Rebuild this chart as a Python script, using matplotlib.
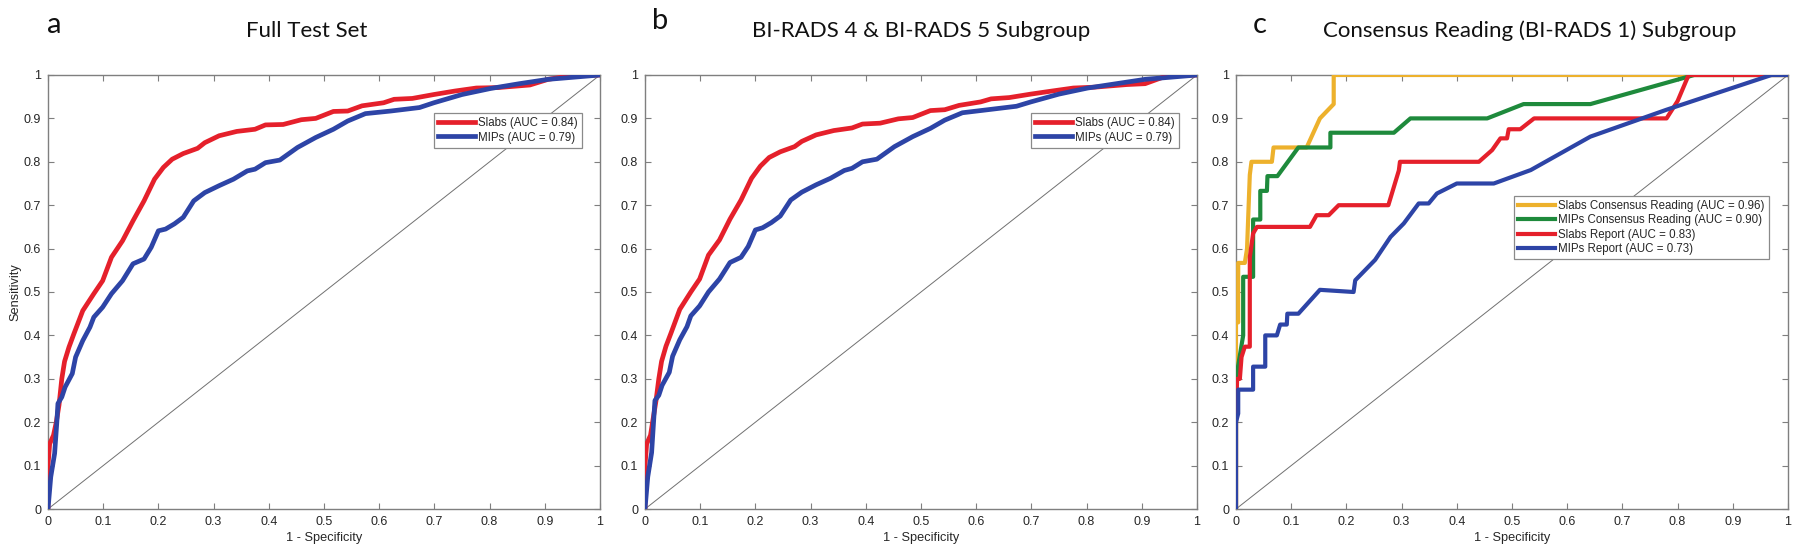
import matplotlib
matplotlib.use('Agg')
import matplotlib.pyplot as plt
from matplotlib.ticker import FuncFormatter

# ---------------- data ----------------
panel_letters = ['a', 'b', 'c']
panel_titles = ['Full Test Set', 'BI-RADS 4 & BI-RADS 5 Subgroup',
                'Consensus Reading (BI-RADS 1) Subgroup']
x_label = '1 - Specificity'
y_label = 'Sensitivity'
tick_values = [0, 0.1, 0.2, 0.3, 0.4, 0.5, 0.6, 0.7, 0.8, 0.9, 1]

# Panel a: full test set
a_slabs_fpr = [0, 0, 0.003, 0.01, 0.015, 0.02, 0.025, 0.03, 0.038, 0.047, 0.063, 0.083,
               0.099, 0.115, 0.135, 0.154, 0.174, 0.193, 0.209, 0.225, 0.245, 0.271,
               0.284, 0.31, 0.342, 0.375, 0.394, 0.426, 0.459, 0.485, 0.517, 0.543,
               0.569, 0.608, 0.627, 0.66, 0.699, 0.737, 0.776, 0.815, 0.873, 0.906,
               0.945, 1.0]
a_slabs_tpr = [0, 0.10, 0.15, 0.17, 0.20, 0.24, 0.30, 0.34, 0.373, 0.404, 0.457, 0.496,
               0.526, 0.58, 0.618, 0.664, 0.71, 0.76, 0.787, 0.806, 0.819, 0.831,
               0.844, 0.86, 0.87, 0.875, 0.885, 0.886, 0.897, 0.90, 0.916, 0.917,
               0.929, 0.936, 0.944, 0.946, 0.955, 0.963, 0.97, 0.971, 0.977, 0.99,
               0.998, 1.0]
a_mips_fpr = [0, 0.005, 0.012, 0.016, 0.018, 0.025, 0.031, 0.044, 0.05, 0.063, 0.076,
              0.083, 0.099, 0.115, 0.135, 0.154, 0.174, 0.187, 0.20, 0.213, 0.229,
              0.245, 0.264, 0.284, 0.31, 0.336, 0.361, 0.375, 0.394, 0.42, 0.452,
              0.485, 0.517, 0.543, 0.575, 0.621, 0.673, 0.699, 0.75, 0.802, 0.854,
              0.906, 1.0]
a_mips_tpr = [0, 0.074, 0.128, 0.20, 0.243, 0.258, 0.281, 0.312, 0.35, 0.388, 0.419,
              0.442, 0.465, 0.496, 0.526, 0.565, 0.576, 0.603, 0.641, 0.645, 0.657,
              0.672, 0.71, 0.729, 0.745, 0.76, 0.779, 0.783, 0.798, 0.804, 0.833,
              0.856, 0.875, 0.894, 0.911, 0.917, 0.925, 0.936, 0.955, 0.969, 0.98,
              0.99, 1.0]

# Panel b: BI-RADS 4 & 5 subgroup
b_slabs_fpr = [0, 0, 0.003, 0.01, 0.015, 0.02, 0.025, 0.03, 0.038, 0.047, 0.063, 0.083,
               0.099, 0.115, 0.135, 0.154, 0.174, 0.193, 0.209, 0.225, 0.245, 0.271,
               0.284, 0.31, 0.342, 0.375, 0.394, 0.426, 0.459, 0.485, 0.517, 0.543,
               0.569, 0.608, 0.627, 0.66, 0.699, 0.737, 0.776, 0.815, 0.873, 0.906,
               0.945, 1.0]
b_slabs_tpr = [0, 0.10, 0.15, 0.17, 0.21, 0.25, 0.30, 0.34, 0.375, 0.405, 0.46, 0.50,
               0.53, 0.585, 0.62, 0.668, 0.712, 0.762, 0.79, 0.81, 0.823, 0.835,
               0.847, 0.862, 0.872, 0.878, 0.887, 0.889, 0.899, 0.902, 0.918, 0.92,
               0.93, 0.938, 0.945, 0.948, 0.956, 0.963, 0.97, 0.972, 0.978, 0.98,
               0.998, 1.0]
b_mips_fpr = [0, 0.005, 0.012, 0.016, 0.018, 0.025, 0.031, 0.044, 0.05, 0.063, 0.076,
              0.083, 0.099, 0.115, 0.135, 0.154, 0.174, 0.187, 0.20, 0.213, 0.229,
              0.245, 0.264, 0.284, 0.31, 0.336, 0.361, 0.375, 0.394, 0.42, 0.452,
              0.485, 0.517, 0.543, 0.575, 0.621, 0.673, 0.699, 0.75, 0.802, 0.854,
              0.906, 1.0]
b_mips_tpr = [0, 0.074, 0.13, 0.21, 0.25, 0.262, 0.285, 0.315, 0.352, 0.39, 0.42,
              0.445, 0.468, 0.50, 0.53, 0.568, 0.58, 0.605, 0.643, 0.648, 0.66,
              0.675, 0.712, 0.73, 0.747, 0.762, 0.78, 0.785, 0.80, 0.806, 0.835,
              0.858, 0.877, 0.896, 0.913, 0.92, 0.928, 0.938, 0.956, 0.97, 0.98,
              0.99, 1.0]

# Panel c: consensus reading subgroup
c_slabs_cons_fpr = [0, 0, 0.004, 0.004, 0.016, 0.02, 0.025, 0.028, 0.065, 0.068, 0.128,
                    0.152, 0.177, 0.177, 1.0]
c_slabs_cons_tpr = [0, 0.43, 0.43, 0.567, 0.567, 0.60, 0.77, 0.80, 0.80, 0.833, 0.833,
                    0.90, 0.933, 1.0, 1.0]
c_mips_cons_fpr = [0, 0, 0.013, 0.013, 0.031, 0.031, 0.044, 0.044, 0.056, 0.057, 0.075,
                   0.113, 0.171, 0.171, 0.286, 0.316, 0.455, 0.521, 0.642, 0.83, 1.0]
c_mips_cons_tpr = [0, 0.30, 0.40, 0.535, 0.535, 0.667, 0.667, 0.733, 0.733, 0.767, 0.767,
                   0.833, 0.833, 0.867, 0.867, 0.90, 0.90, 0.933, 0.933, 1.0, 1.0]
c_slabs_rep_fpr = [0, 0, 0.002, 0.007, 0.01, 0.016, 0.025, 0.025, 0.031, 0.038, 0.134,
                   0.146, 0.168, 0.186, 0.276, 0.295, 0.297, 0.44, 0.464, 0.479, 0.491,
                   0.494, 0.515, 0.54, 0.78, 0.80, 0.81, 0.82, 1.0]
c_slabs_rep_tpr = [0, 0.213, 0.30, 0.30, 0.35, 0.374, 0.374, 0.58, 0.635, 0.65, 0.65,
                   0.677, 0.677, 0.70, 0.70, 0.78, 0.80, 0.80, 0.827, 0.854, 0.854,
                   0.875, 0.875, 0.90, 0.90, 0.94, 0.97, 1.0, 1.0]
c_mips_rep_fpr = [0, 0, 0.004, 0.004, 0.031, 0.031, 0.053, 0.053, 0.074, 0.08, 0.092,
                  0.093, 0.113, 0.152, 0.213, 0.216, 0.252, 0.28, 0.304, 0.331, 0.349,
                  0.364, 0.40, 0.467, 0.534, 0.642, 0.78, 0.97, 1.0]
c_mips_rep_tpr = [0, 0.20, 0.22, 0.275, 0.275, 0.328, 0.328, 0.40, 0.40, 0.425, 0.425,
                  0.45, 0.45, 0.505, 0.50, 0.527, 0.574, 0.627, 0.658, 0.704, 0.704,
                  0.727, 0.75, 0.75, 0.781, 0.858, 0.92, 1.0, 1.0]

a_labels = ['Slabs (AUC = 0.84)', 'MIPs (AUC = 0.79)']
b_labels = ['Slabs (AUC = 0.84)', 'MIPs (AUC = 0.79)']
c_labels = ['Slabs Consensus Reading (AUC = 0.96)', 'MIPs Consensus Reading (AUC = 0.90)',
            'Slabs Report (AUC = 0.83)', 'MIPs Report (AUC = 0.73)']

# ---------------- style ----------------
RED = '#E5202B'
BLUE = '#2D44A6'
YELLOW = '#EDB12C'
GREEN = '#1E8A3C'
AXCOL = '#7f7f7f'
TXT = '#262626'
LW = 3.4

plt.rcParams['font.family'] = ['Liberation Sans', 'DejaVu Sans']

W, H = 1800, 557
fig = plt.figure(figsize=(W / 100, H / 100), dpi=100)

ax_left_px = [48, 645, 1236]
ax_w_px = 552
ax_top_px, ax_bot_px = 75, 509

axes = []
for lp in ax_left_px:
    ax = fig.add_axes([lp / W, (H - ax_bot_px) / H, ax_w_px / W, (ax_bot_px - ax_top_px) / H])
    axes.append(ax)

fmt = FuncFormatter(lambda v, p: '%g' % v)

def style(ax):
    ax.set_xlim(0, 1)
    ax.set_ylim(0, 1)
    ax.set_xticks(tick_values)
    ax.set_yticks(tick_values)
    ax.xaxis.set_major_formatter(fmt)
    ax.yaxis.set_major_formatter(fmt)
    for s in ax.spines.values():
        s.set_color(AXCOL)
        s.set_linewidth(1.0)
    ax.tick_params(direction='in', length=4.3, width=0.8, color=AXCOL,
                   top=True, right=True, labelsize=9, labelcolor=TXT, pad=5)
    ax.plot([0, 1], [0, 1], color='#707070', lw=0.7, zorder=1)
    ax.set_xlabel(x_label, fontsize=9.2, color=TXT, labelpad=3)

# panel a
ax = axes[0]
style(ax)
ax.plot(a_slabs_fpr, a_slabs_tpr, color=RED, lw=LW, label=a_labels[0], zorder=3,
        solid_joinstyle='round')
ax.plot(a_mips_fpr, a_mips_tpr, color=BLUE, lw=LW, label=a_labels[1], zorder=4,
        solid_joinstyle='round')
ax.set_ylabel(y_label, fontsize=9.2, color=TXT, labelpad=1.5)

# panel b
ax = axes[1]
style(ax)
ax.plot(b_slabs_fpr, b_slabs_tpr, color=RED, lw=LW, label=b_labels[0], zorder=3,
        solid_joinstyle='round')
ax.plot(b_mips_fpr, b_mips_tpr, color=BLUE, lw=LW, label=b_labels[1], zorder=4,
        solid_joinstyle='round')

# panel c
ax = axes[2]
style(ax)
cl = 3.0
ax.plot(c_slabs_cons_fpr, c_slabs_cons_tpr, color=YELLOW, lw=cl, label=c_labels[0], zorder=3)
ax.plot(c_mips_cons_fpr, c_mips_cons_tpr, color=GREEN, lw=cl, label=c_labels[1], zorder=4)
ax.plot(c_slabs_rep_fpr, c_slabs_rep_tpr, color=RED, lw=cl, label=c_labels[2], zorder=5)
ax.plot(c_mips_rep_fpr, c_mips_rep_tpr, color=BLUE, lw=cl, label=c_labels[3], zorder=6)

leg_kw = dict(fontsize=8.3, frameon=True, fancybox=False, framealpha=1,
              edgecolor='#8a8a8a', handlelength=3.2, handletextpad=0.25,
              borderpad=0.35, labelspacing=0.2, borderaxespad=0, loc='upper right')
for ax, anchor in zip(axes, [(0.967, 0.912), (0.967, 0.912), (0.965, 0.721)]):
    leg = ax.legend(bbox_to_anchor=anchor, **leg_kw)
    leg.get_frame().set_linewidth(0.9)
    for t in leg.get_texts():
        t.set_color(TXT)

# panel letters and titles
title_font = ['Lato', 'DejaVu Sans']
letter_pos = [(54, 33), (660, 29), (1260, 33)]
title_cx = [307, 921, 1530]
for (lx, ly), L in zip(letter_pos, panel_letters):
    fig.text(lx / W, 1 - ly / H, L, fontsize=21, family=title_font, ha='center',
             va='baseline', color='#111111')
for cx, T in zip(title_cx, panel_titles):
    fig.text(cx / W, 1 - 37 / H, T, fontsize=16, family=title_font, ha='center',
             va='baseline', color='#111111')

fig.savefig('out.png', dpi=100, facecolor='white')
